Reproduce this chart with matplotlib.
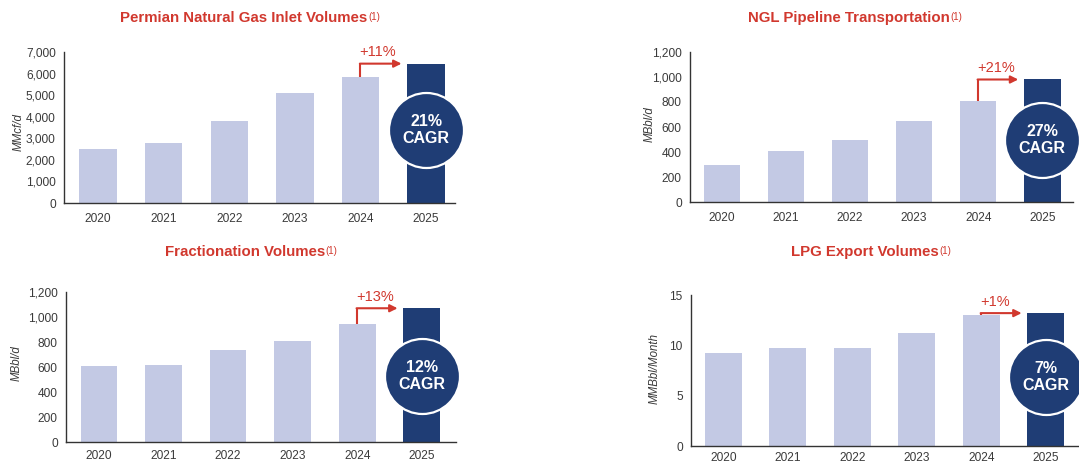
import matplotlib
matplotlib.use("Agg")
import matplotlib.pyplot as plt
from matplotlib.ticker import FuncFormatter

plt.rcParams['font.family'] = ['Liberation Sans', 'DejaVu Sans']

# ---------------- data ----------------
years = ["2020", "2021", "2022", "2023", "2024", "2025"]

titles = ["Permian Natural Gas Inlet Volumes", "NGL Pipeline Transportation",
          "Fractionation Volumes", "LPG Export Volumes"]
units = ["MMcf/d", "MBbl/d", "MBbl/d", "MMBbl/Month"]

permian_gas = [2500, 2800, 3800, 5100, 5830, 6460]
ngl_pipeline = [300, 405, 495, 645, 810, 980]
fractionation = [610, 620, 740, 810, 945, 1070]
lpg_export = [9.2, 9.73, 9.73, 11.2, 13.0, 13.2]

growth_labels = ["+11%", "+21%", "+13%", "+1%"]
cagr_labels = ["21%", "27%", "12%", "7%"]

y_maxes = [7000, 1200, 1200, 15]
y_steps = [1000, 200, 200, 5]

series = [permian_gas, ngl_pipeline, fractionation, lpg_export]

# ---------------- layout ----------------
W, H = 1079, 465
fig = plt.figure(figsize=(W / 100, H / 100), dpi=100)

# pixel boxes: left, right, top, bottom
boxes = [(64, 455, 52, 203), (690, 1073, 52, 202), (66, 456, 292, 442), (691, 1100, 295, 446)]
xlims = [(-0.518, 5.44), (-0.5, 5.48), (-0.51, 5.53), (-0.5, 5.84)]
circle_frac = [0.483, 0.413, 0.44, 0.457]
title_pos = [(244, 18), (849, 18), (245, 252), (865, 252)]
ylabel_pos = [(19, 132), (650, 124), (17, 363), (655, 368)]
xpads = [7, 7, 6, 4.5]

light = "#c3c9e4"
dark = "#1f3d75"
red = "#d1382e"
txtc = "#3a3a3a"
bar_w = 0.57

for i in range(4):
    l, r, t, b = boxes[i]
    ax = fig.add_axes([l / W, (H - b) / H, (r - l) / W, (b - t) / H])
    vals = series[i]
    x = list(range(len(years)))
    colors = [light] * (len(years) - 1) + [dark]
    ax.bar(x, vals, width=bar_w, color=colors, zorder=2)
    ax.set_xlim(*xlims[i])
    ax.set_ylim(0, y_maxes[i])
    ticks = [k * y_steps[i] for k in range(int(y_maxes[i] / y_steps[i]) + 1)]
    ax.set_yticks(ticks)
    ax.yaxis.set_major_formatter(FuncFormatter(lambda v, p: f"{int(v):,}"))
    ax.set_xticks(x)
    ax.set_xticklabels(years)
    ax.tick_params(axis='both', length=0, labelsize=8.6, colors=txtc)
    ax.tick_params(axis='y', pad=6)
    ax.tick_params(axis='x', pad=xpads[i])
    for s in ["top", "right"]:
        ax.spines[s].set_visible(False)
    for s in ["left", "bottom"]:
        ax.spines[s].set_color("#333333")
        ax.spines[s].set_linewidth(1.0)

    # growth arrow
    v4, v5 = vals[4], vals[5]
    ax.plot([4, 4], [v4, v5], color=red, lw=1.5, zorder=3, solid_capstyle='butt')
    ax.annotate("", xy=(5 - bar_w / 2 - 0.09, v5), xytext=(4 - 0.01, v5),
                arrowprops=dict(arrowstyle='-|>', color=red, lw=1.5,
                                mutation_scale=11, shrinkA=0, shrinkB=0),
                zorder=3)
    ax.annotate(growth_labels[i], xy=(4, v5), xytext=(-1, 3), textcoords='offset points',
                ha='left', va='bottom', color=red, fontsize=10.5, zorder=4)

    # CAGR circle
    cy = circle_frac[i] * y_maxes[i]
    ax.plot([5], [cy], marker='o', markersize=54, color=dark, markeredgecolor='white',
            markeredgewidth=1.6, zorder=5, clip_on=False)
    ax.text(5, cy, f"{cagr_labels[i]}\nCAGR", ha='center', va='center', color='white',
            fontsize=11.5, fontweight='bold', linespacing=1.15, zorder=6, clip_on=False)

    # titles
    tx, ty = title_pos[i]
    tt = fig.text(tx / W, 1 - ty / H, titles[i], ha='center', va='center',
                  color=red, fontsize=10.8, fontweight='bold')
    fig.canvas.draw()
    ax.annotate("(1)", xy=(1, 0.95), xycoords=tt, xytext=(0.5, 0), textcoords='offset points',
                ha='left', va='top', color=red, fontsize=7, annotation_clip=False)

    # y label
    lx, ly = ylabel_pos[i]
    fig.text(lx / W, 1 - ly / H, units[i], rotation=90, ha='center', va='center',
             fontsize=8.3, style='italic', color=txtc)

fig.savefig("out.png", dpi=100)
